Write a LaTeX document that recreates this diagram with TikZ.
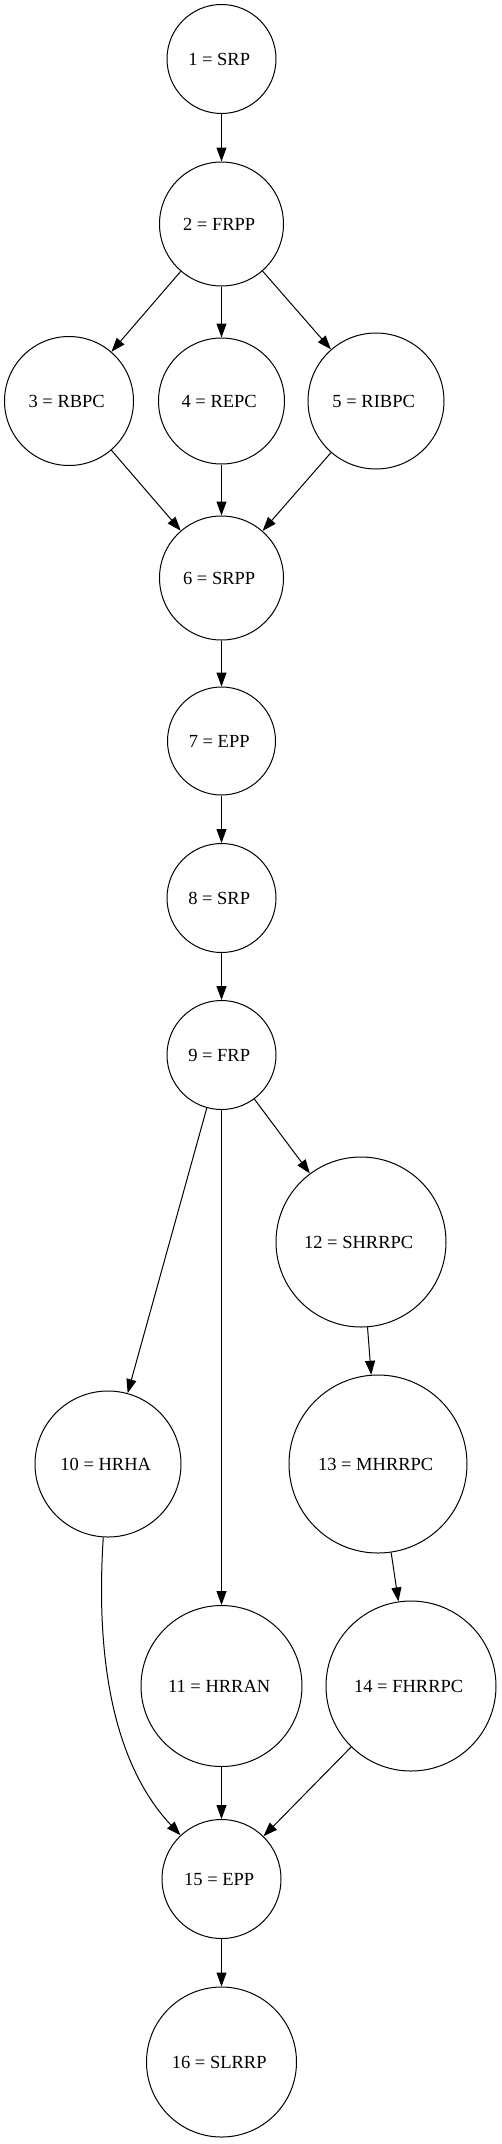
\documentclass[tikz,border=0pt]{standalone}
\usepackage{fontspec}
\setmainfont{Liberation Serif}
\usetikzlibrary{arrows.meta}

\begin{document}
\begin{tikzpicture}[x = 1pt, y = -1pt,
    every node/.style = { draw, align = center, shape = circle, inner sep = 0pt, line width = 1pt, font = \fontsize{18.5}{22}\selectfont },
    stage/.style = { minimum size = #1 },
    link/.style = { line width = 1pt, -{Triangle[length = 14pt, width = 10pt]} }]
  \useasboundingbox (0,0) rectangle (501,2144);
  \node [stage = 109] (n1) at (221.5,59) { 1 = SRP };
  \node [stage = 124] (n2) at (221.5,224) { 2 = FRPP };
  \node [stage = 129] (n3) at (69,401) { 3 = RBPC };
  \node [stage = 126] (n4) at (221.5,401) { 4 = REPC };
  \node [stage = 136] (n5) at (376,401) { 5 = RIBPC };
  \node [stage = 124] (n6) at (221.5,578) { 6 = SRPP };
  \node [stage = 108] (n7) at (221.5,741) { 7 = EPP };
  \node [stage = 109] (n8) at (221.5,898) { 8 = SRP };
  \node [stage = 109] (n9) at (221.5,1055) { 9 = FRP };
  \node [stage = 146] (n10) at (108,1464) { 10 = HRHA };
  \node [stage = 161] (n11) at (221.5,1686) { 11 = HRRAN };
  \node [stage = 170] (n12) at (361,1242) { 12 = SHRRPC };
  \node [stage = 178] (n13) at (378,1464) { 13 = MHRRPC };
  \node [stage = 170] (n14) at (411,1686) { 14 = FHRRPC };
  \node [stage = 119] (n15) at (221.5,1879) { 15 = EPP };
  \node [stage = 150] (n16) at (221.5,2062) { 16 = SLRRP };

  \foreach \a/\b in {1/2, 2/3, 2/4, 2/5, 3/6, 4/6, 5/6, 6/7, 7/8, 8/9,
      9/10, 9/11, 9/12, 12/13, 13/14, 11/15, 14/15, 15/16}
    \draw [link] (n\a) -- (n\b);
  \draw [link] (n10) .. controls (96,1650) and (110,1760) .. (n15);
\end{tikzpicture}
\end{document}
